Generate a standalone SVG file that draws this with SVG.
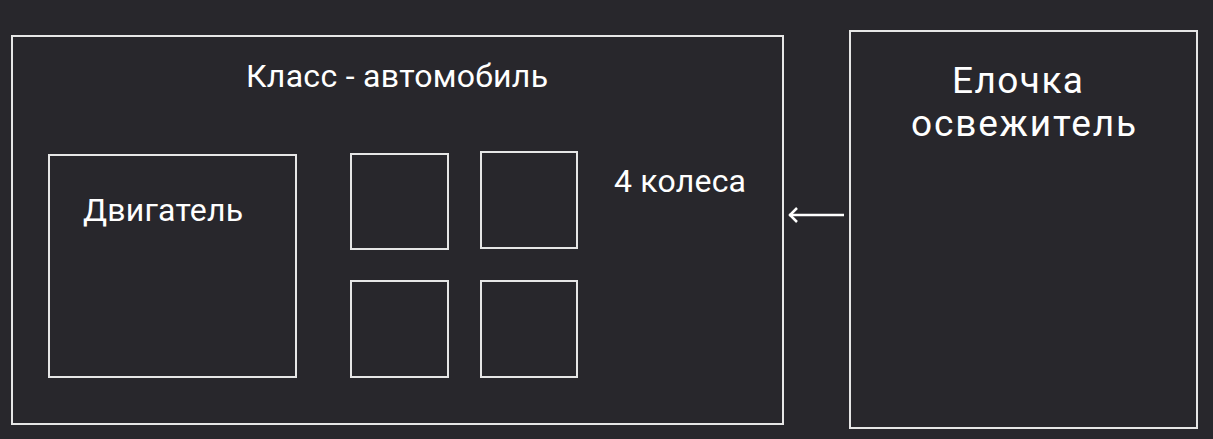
<svg xmlns="http://www.w3.org/2000/svg" width="1213" height="439" viewBox="0 0 1213 439">
<style>
.box{fill:none;stroke:#e6e6e6;stroke-width:2}
.t{fill:#ffffff;font-family:Roboto,"Noto Sans",sans-serif}
</style>
<defs>
<marker id="ah" markerWidth="12" markerHeight="16" refX="10" refY="8" orient="auto" markerUnits="userSpaceOnUse">
<path d="M2,1 L9,8 L2,15" fill="none" stroke="#ffffff" stroke-width="2.5"/>
</marker>
</defs>
<rect width="1213" height="439" fill="#28272c"/>
<g id="car">
<rect class="box" x="12" y="36" width="771" height="388"/>
<text class="t" x="246" y="87" font-size="32" textLength="302">Класс - автомобиль</text>
</g>
<g id="engine">
<rect class="box" x="49" y="155" width="247" height="222"/>
<text class="t" x="83" y="221" font-size="32" textLength="160">Двигатель</text>
</g>
<g id="wheel1"><rect class="box" x="351" y="154" width="97" height="95"/></g>
<g id="wheel2"><rect class="box" x="481" y="152" width="96" height="96"/></g>
<g id="wheel3"><rect class="box" x="351" y="281" width="97" height="96"/></g>
<g id="wheel4"><rect class="box" x="481" y="281" width="96" height="96"/></g>
<g id="wheels-label"><text class="t" x="614" y="192" font-size="32" textLength="132">4 колеса</text></g>
<g id="freshener">
<rect class="box" x="850" y="31" width="347" height="397"/>
<text class="t" x="952" y="93" font-size="37" textLength="131">Елочка</text>
<text class="t" x="911" y="136" font-size="37" textLength="225">освежитель</text>
</g>
<g id="connectors">
<line x1="844" y1="215" x2="789" y2="215" stroke="#ffffff" stroke-width="2.5" marker-end="url(#ah)"/>
</g>
</svg>
